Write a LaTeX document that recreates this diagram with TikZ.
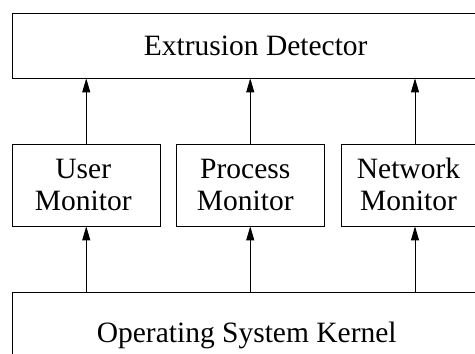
\documentclass[tikz,border=0pt]{standalone}
\usepackage{fontspec}
\setmainfont{Liberation Serif}
\usetikzlibrary{arrows.meta}
\newcommand{\twoline}[3]{\hspace*{#1}\raisebox{-3.5pt}[\height][\depth]{\begin{tabular}{@{}c@{}}#2\\#3\end{tabular}}}
\begin{document}
\begin{tikzpicture}[x=1pt,y=1pt,
  box/.style={draw=black,line width=0.8pt,rectangle,inner sep=0pt,font=\fontsize{29.5}{32}\selectfont},
  arr/.style={draw=black,line width=0.8pt,-{Triangle[length=14pt,width=8pt]}}]
\useasboundingbox (0,0) rectangle (475,354);
\clip (0,0) rectangle (475,354);
\node[box,minimum width=476.5pt,minimum height=65pt] (det) at (250.75,308.5) {\hspace*{10pt}Extrusion Detector};
\node[box,minimum width=147.5pt,minimum height=82pt] (user) at (86.25,169) {\twoline{-6pt}{User}{Monitor}};
\node[box,minimum width=147.5pt,minimum height=82pt] (proc) at (250.25,169) {\twoline{-10pt}{Process}{Monitor}};
\node[box,minimum width=147.5pt,minimum height=82pt] (net) at (415,169) {\twoline{-13pt}{Network}{Monitor}};
\node[box,minimum width=476.5pt,minimum height=86pt] (kern) at (250.75,19) {\hspace*{-8pt}Operating System Kernel};
\foreach \m in {user,proc,net}{
  \draw[arr] (\m.north) -- (\m.north |- det.south);
  \draw[arr] (\m.south |- kern.north) -- (\m.south);
}
\end{tikzpicture}
\end{document}
